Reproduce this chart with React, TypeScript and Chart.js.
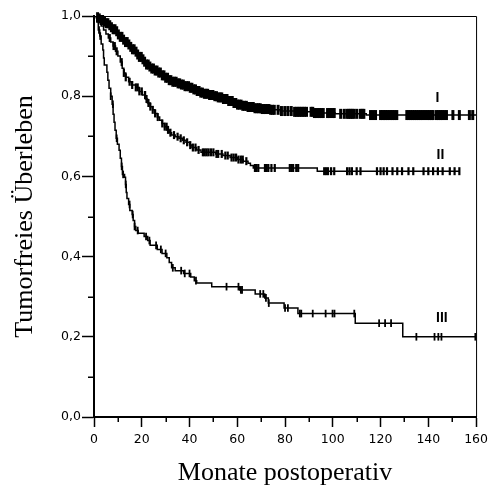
import React, { useEffect, useRef } from "react";
import { Chart, registerables } from "chart.js";

Chart.register(...registerables);

// ---- Data ----
const groupNames = ["I", "II", "III"];

// Group I: step times (months) and survival after each step
const timesI = [0, 1, 2, 3, 4, 5, 6, 7, 8, 9, 10, 11, 12, 13, 14, 15, 16, 17, 18, 19, 20, 21, 22, 23, 24, 25.5, 27, 28.5, 30, 31.5, 33, 34.5, 36, 38, 40, 41.5, 43, 44.5, 46, 48, 50, 52, 54, 56, 58, 60, 62, 64, 67, 70, 74, 78, 84, 92, 101, 114, 160];
const survI = [1, 0.997, 0.994, 0.99, 0.986, 0.982, 0.977, 0.972, 0.967, 0.962, 0.954, 0.948, 0.941, 0.935, 0.929, 0.923, 0.917, 0.911, 0.904, 0.898, 0.892, 0.886, 0.879, 0.874, 0.869, 0.864, 0.859, 0.852, 0.846, 0.84, 0.836, 0.832, 0.829, 0.825, 0.821, 0.817, 0.813, 0.809, 0.806, 0.803, 0.8, 0.797, 0.793, 0.788, 0.783, 0.779, 0.776, 0.773, 0.77, 0.768, 0.766, 0.763, 0.761, 0.758, 0.756, 0.753, 0.753];
const censorI = [1.5, 2.2, 3.0, 3.6, 4.4, 5.1, 5.8, 6.6, 7.3, 8.0, 8.8, 9.5, 10.2, 11.0, 11.7, 12.4, 13.2, 13.9, 14.6, 15.4, 16.1, 16.8, 17.6, 18.3, 19.0, 19.8, 20.5, 21.2, 22.0, 22.7, 23.4, 24.2, 24.9, 25.6, 26.4, 27.1, 27.8, 28.6, 29.3, 30.0, 30.8, 31.5, 32.2, 33.0, 33.7, 34.4, 35.2, 35.9, 36.6, 37.4, 38.1, 38.8, 39.6, 40.3, 41.0, 41.8, 42.5, 43.2, 44.0, 44.7, 45.4, 46.2, 46.9, 47.6, 48.4, 49.1, 49.8, 50.6, 51.3, 52.0, 52.8, 53.5, 54.2, 55.0, 55.7, 56.4, 57.2, 57.9, 58.6, 59.4, 60.1, 60.8, 61.6, 62.3, 63.0, 63.8, 64.5, 65.2, 66.0, 66.7, 67.4, 68.2, 68.9, 69.6, 70.4, 71.1, 71.8, 72.6, 73.3, 74.0, 74.8, 75.5, 77.1, 78.5, 79.9, 81.2, 82.6, 84.0, 84.7, 85.4, 86.1, 86.8, 87.5, 88.2, 89.0, 90.9, 91.6, 92.3, 93.0, 93.8, 94.5, 95.2, 96.0, 97.8, 98.5, 99.2, 100.0, 100.6, 103.3, 104.8, 106.0, 106.7, 107.4, 108.1, 108.8, 110.0, 111.5, 112.3, 113.0, 115.8, 116.9, 117.9, 120.0, 120.7, 121.4, 122.1, 122.8, 123.6, 124.4, 125.1, 125.9, 126.8, 131.0, 131.8, 132.6, 133.4, 134.2, 135.0, 135.8, 136.6, 137.4, 138.2, 139.0, 139.8, 140.6, 141.4, 142.0, 143.4, 144.2, 145.0, 145.8, 146.6, 147.6, 150.3, 153.0, 157.2, 158.6];

// Group II
const timesII = [0, 1, 2, 3, 4, 5, 6, 7, 8, 9, 10, 11, 11.8, 12.5, 13.3, 14.5, 15.7, 17.5, 19, 20.3, 21.5, 22.4, 23.5, 24.5, 25.5, 26.5, 27.5, 28.5, 29.5, 30.5, 31.5, 32.5, 34, 35.6, 37, 38.5, 40, 41, 43, 44.8, 51, 54, 57, 60, 62.5, 64.5, 65.5, 66.7, 93.5, 153];
const survII = [1, 0.995, 0.985, 0.975, 0.965, 0.955, 0.945, 0.935, 0.925, 0.912, 0.9, 0.885, 0.87, 0.858, 0.847, 0.836, 0.828, 0.822, 0.812, 0.803, 0.793, 0.783, 0.774, 0.766, 0.757, 0.748, 0.74, 0.732, 0.724, 0.716, 0.709, 0.703, 0.699, 0.695, 0.69, 0.685, 0.678, 0.672, 0.666, 0.66, 0.656, 0.652, 0.647, 0.642, 0.638, 0.633, 0.627, 0.621, 0.613, 0.613];
const censorII = [6.6, 8.2, 8.7, 9.5, 11.6, 12.5, 13.3, 14.9, 16.0, 17.5, 18.3, 19.0, 20.0, 21.4, 22.0, 22.8, 23.6, 24.6, 25.6, 26.7, 28.6, 29.6, 30.4, 31.0, 32.0, 33.5, 35.0, 36.3, 37.6, 39.0, 40.3, 41.4, 42.5, 43.8, 45.6, 46.4, 47.2, 48.0, 49.0, 50.0, 51.3, 52.0, 53.5, 55.0, 56.0, 57.6, 58.5, 59.5, 60.5, 61.5, 62.3, 63.8, 67.4, 68.0, 68.8, 71.6, 72.3, 73.0, 74.3, 75.7, 82.0, 82.7, 83.4, 84.7, 85.5, 96.4, 97.2, 98.0, 99.3, 100.6, 106.0, 107.0, 108.0, 110.0, 111.6, 118.5, 120.0, 121.3, 122.7, 125.0, 127.0, 129.0, 131.7, 133.7, 138.0, 140.0, 142.0, 144.0, 146.0, 149.0, 151.0, 153.0];

// Group III
const timesIII = [0, 1.2, 1.8, 2.4, 3.0, 3.7, 4.0, 4.3, 5.4, 5.8, 6.3, 7.0, 7.6, 8.0, 8.4, 8.8, 9.3, 9.8, 10.5, 11.0, 11.5, 11.9, 12.8, 13.2, 13.5, 13.8, 14.5, 15.0, 16.0, 16.4, 17.0, 17.5, 18.5, 21.0, 22.5, 23.5, 26.5, 28.5, 30.5, 31.5, 32.5, 34.0, 37.5, 40.5, 42.0, 43.0, 49.3, 61.0, 67.5, 71.5, 73.0, 79.6, 85.4, 109.4, 129.3, 160];
const survIII = [1, 0.985, 0.965, 0.95, 0.93, 0.915, 0.895, 0.878, 0.86, 0.84, 0.82, 0.8, 0.78, 0.755, 0.735, 0.715, 0.695, 0.68, 0.665, 0.645, 0.625, 0.605, 0.598, 0.58, 0.56, 0.545, 0.53, 0.515, 0.505, 0.49, 0.475, 0.465, 0.458, 0.45, 0.44, 0.428, 0.418, 0.408, 0.397, 0.385, 0.372, 0.365, 0.358, 0.349, 0.34, 0.334, 0.325, 0.317, 0.307, 0.297, 0.284, 0.272, 0.258, 0.234, 0.2, 0.2];
const censorIII = [2.1, 2.6, 7.0, 7.9, 9.5, 11.6, 12.2, 13.3, 14.9, 16.2, 17.0, 18.3, 21.8, 23.2, 26.0, 28.0, 30.0, 33.0, 36.5, 38.0, 40.0, 42.7, 55.5, 60.5, 61.5, 62.0, 69.6, 70.9, 72.0, 73.2, 80.0, 81.2, 86.2, 86.8, 91.6, 97.0, 99.9, 100.7, 109.0, 119.4, 121.9, 124.4, 135.0, 142.6, 144.2, 145.5, 159.7];

// Axis ticks
const xMajorTicks = [0, 20, 40, 60, 80, 100, 120, 140, 160];
const xMinorTicks = [10, 30, 50, 70, 90, 110, 130, 150];
const yMinorTicks = [0.1, 0.3, 0.5, 0.7, 0.9];

// Curve label anchors (data coordinates)
const groupLabelAnchors = [
  { x: 143.8, y: 0.795 },
  { x: 145.1, y: 0.653 },
  { x: 145.7, y: 0.247 },
];

function survivalAt(times: number[], surv: number[], t: number): number {
  let v = surv[0];
  for (let i = 0; i < times.length; i++) {
    if (times[i] <= t) v = surv[i];
    else break;
  }
  return v;
}

function stepData(times: number[], surv: number[]) {
  return times.map((t, i) => ({ x: t, y: surv[i] }));
}

function censorData(times: number[], surv: number[], cens: number[]) {
  return cens.map((t) => ({ x: t, y: survivalAt(times, surv, t) }));
}

const framePlugin = {
  id: "frameAndLabels",
  afterDatasetsDraw(chart: any) {
    const { ctx, chartArea, scales } = chart;
    const { left, right, top, bottom } = chartArea;
    const xs = scales.x;
    const ys = scales.y;
    ctx.save();
    ctx.strokeStyle = "#000";
    ctx.lineWidth = 1;
    ctx.beginPath();
    ctx.moveTo(left, top + 0.5);
    ctx.lineTo(right + 0.5, top + 0.5);
    ctx.lineTo(right + 0.5, bottom);
    ctx.stroke();

    ctx.lineWidth = 1.5;
    ctx.beginPath();
    xMinorTicks.forEach((v) => {
      const px = Math.round(xs.getPixelForValue(v)) + 0.25;
      ctx.moveTo(px, bottom);
      ctx.lineTo(px, bottom + 5);
    });
    yMinorTicks.forEach((v) => {
      const py = Math.round(ys.getPixelForValue(v)) + 0.25;
      ctx.moveTo(left - 6, py);
      ctx.lineTo(left, py);
    });
    ctx.stroke();

    ctx.fillStyle = "#000";
    ctx.font = "bold 14px 'Liberation Sans', Arial, sans-serif";
    ctx.textAlign = "center";
    ctx.textBaseline = "middle";
    groupNames.forEach((name, i) => {
      const a = groupLabelAnchors[i];
      ctx.fillText(name, xs.getPixelForValue(a.x), ys.getPixelForValue(a.y));
    });
    ctx.restore();
  },
};

export default function App() {
  const canvasRef = useRef<HTMLCanvasElement | null>(null);

  useEffect(() => {
    const canvas = canvasRef.current;
    if (!canvas) return;

    const lineStyle = {
      borderColor: "#000",
      borderWidth: 1.5,
      pointRadius: 0,
      fill: false,
      stepped: true as const,
      showLine: true,
    };
    const censorBase = {
      showLine: false,
      pointStyle: "line" as const,
      pointRotation: 90,
      rotation: 90,
      pointBorderColor: "#000",
      pointBackgroundColor: "#000",
      borderColor: "#000",
      clip: false as const,
    };

    const chart = new Chart(canvas, {
      type: "scatter",
      data: {
        datasets: [
          { label: groupNames[0], data: stepData(timesI, survI), ...lineStyle },
          { label: groupNames[1], data: stepData(timesII, survII), ...lineStyle },
          { label: groupNames[2], data: stepData(timesIII, survIII), ...lineStyle },
          { label: groupNames[0] + " zensiert", data: censorData(timesI, survI, censorI), ...censorBase, pointRadius: 5, pointBorderWidth: 3 },
          { label: groupNames[1] + " zensiert", data: censorData(timesII, survII, censorII), ...censorBase, pointRadius: 4, pointBorderWidth: 2.2 },
          { label: groupNames[2] + " zensiert", data: censorData(timesIII, survIII, censorIII), ...censorBase, pointRadius: 3.8, pointBorderWidth: 1.8 },
        ],
      },
      options: {
        animation: false,
        responsive: false,
        devicePixelRatio: 1,
        events: [],
        layout: { padding: { top: 16, right: 13, left: 0, bottom: 0 } },
        plugins: {
          legend: { display: false },
          tooltip: { enabled: false },
          title: { display: false },
        },
        scales: {
          x: {
            type: "linear",
            min: 0,
            max: 160,
            afterFit: (s: any) => {
              s.height = 72;
            },
            afterBuildTicks: (s: any) => {
              s.ticks = xMajorTicks.map((v) => ({ value: v }));
            },
            ticks: {
              color: "#000",
              padding: 5,
              maxRotation: 0,
              autoSkip: false,
              font: { family: "'DejaVu Sans', sans-serif", size: 12.5 },
            },
            grid: {
              drawOnChartArea: false,
              drawTicks: true,
              tickLength: 10,
              tickWidth: 1.5,
              tickColor: "#000",
              color: "#000",
            },
            border: { display: true, color: "#000", width: 2 },
            title: {
              display: true,
              text: "Monate postoperativ",
              color: "#000",
              padding: { top: 0, bottom: 0 },
              font: { family: "'Liberation Serif', 'Times New Roman', serif", size: 26, weight: "normal" },
            },
          },
          y: {
            type: "linear",
            min: 0,
            max: 1,
            afterFit: (s: any) => {
              s.width = 94;
            },
            ticks: {
              stepSize: 0.2,
              color: "#000",
              padding: 1,
              autoSkip: false,
              font: { family: "'DejaVu Sans', sans-serif", size: 12.5 },
              callback: (v: any) => Number(v).toFixed(1).replace(".", ","),
            },
            grid: {
              drawOnChartArea: false,
              drawTicks: true,
              tickLength: 12,
              tickWidth: 1.5,
              tickColor: "#000",
              color: "#000",
            },
            border: { display: true, color: "#000", width: 2 },
            title: {
              display: true,
              text: "Tumorfreies Überleben",
              color: "#000",
              padding: { top: 10, bottom: 0 },
              font: { family: "'Liberation Serif', 'Times New Roman', serif", size: 26, weight: "normal" },
            },
          },
        },
      },
      plugins: [framePlugin],
    });

    return () => {
      chart.destroy();
    };
  }, []);

  return (
    <div style={{ position: "fixed", left: 0, top: 0, width: 493, height: 489, background: "#fff" }}>
      <canvas ref={canvasRef} width={493} height={489} style={{ display: "block" }} />
    </div>
  );
}
